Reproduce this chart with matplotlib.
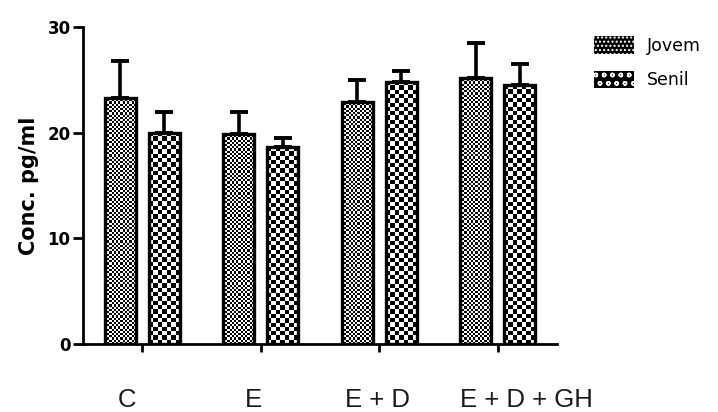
import numpy as np
import matplotlib
matplotlib.use("Agg")
import matplotlib.pyplot as plt
from matplotlib.patches import Patch

groups = ["C", "E", "E + D", "E + D + GH"]
series = ["Jovem", "Senil"]
jovem = [23.3, 19.9, 22.9, 25.2]
jovem_err = [3.5, 2.1, 2.1, 3.3]
senil = [20.0, 18.6, 24.8, 24.5]
senil_err = [2.0, 0.9, 1.0, 2.0]
yticks = [0, 10, 20, 30]

fig = plt.figure(figsize=(7.18, 4.12), dpi=100)
ax = fig.add_axes([0.1156, 0.165, 0.660, 0.7695])

x = np.arange(len(groups))
off = 0.186
w = 0.26


def checker(patch, cell_px, px_per_x, px_per_y):
    # fill a bar with a black/white checkerboard, clipped to the bar
    x0, wd, h = patch.get_x(), patch.get_width(), patch.get_height()
    nc = max(1, int(round(wd * px_per_x / cell_px)))
    nr = max(1, int(round(h * px_per_y / cell_px)))
    img = (np.add.outer(np.arange(nr), np.arange(nc)) % 2).astype(float)
    ax.imshow(img, extent=(x0, x0 + wd, 0, h), cmap="gray", interpolation="nearest",
              aspect="auto", clip_path=patch, zorder=2, vmin=0, vmax=1)


bars_j = ax.bar(x - off, jovem, w, facecolor="none", edgecolor="black", linewidth=2.4, zorder=3)
bars_s = ax.bar(x + off, senil, w, facecolor="none", edgecolor="black", linewidth=2.4, zorder=3)
ax.errorbar(x - off, jovem, yerr=[np.zeros(4), jovem_err], fmt="none", ecolor="black",
            elinewidth=2.6, capsize=6.5, capthick=2.8, zorder=1)
ax.errorbar(x + off, senil, yerr=[np.zeros(4), senil_err], fmt="none", ecolor="black",
            elinewidth=2.6, capsize=6.5, capthick=2.8, zorder=1)

pxx = 474 / 4.0
pxy = 317 / 30.0
for b in bars_j:
    checker(b, 2.2, pxx, pxy)
for b in bars_s:
    checker(b, 4.3, pxx, pxy)

ax.set_xlim(-0.5, 3.5)
ax.set_ylim(0, 30)
ax.spines["top"].set_visible(False)
ax.spines["right"].set_visible(False)
ax.spines["left"].set_linewidth(2)
ax.spines["bottom"].set_linewidth(2)
ax.set_yticks(yticks)
ax.set_yticklabels([str(v) for v in yticks], fontfamily="DejaVu Sans", fontweight="bold", fontsize=12)
ax.tick_params(axis="y", length=7, width=2, pad=2)
ax.set_xticks(x)
ax.set_xticklabels([])
ax.tick_params(axis="x", length=6, width=2, direction="out")
ax.set_ylabel("Conc. pg/ml", fontfamily="DejaVu Sans", fontweight="bold", fontsize=15, labelpad=6)

label_x = [-0.126, 0.935, 1.988, 3.243]
for lx, g in zip(label_x, groups):
    ax.text(lx, -0.175, g, transform=ax.get_xaxis_transform(), ha="center", va="center",
            family="Liberation Sans", fontsize=18.5, color="#1a1a1a")

handles = [Patch(facecolor="black", edgecolor="white", hatch="....", linewidth=0),
           Patch(facecolor="black", edgecolor="white", hatch="oo", linewidth=0)]
fig.legend(handles, series, loc="upper left", bbox_to_anchor=(0.806, 0.95), frameon=False,
           prop={"family": "DejaVu Sans", "size": 12.5}, handlelength=2.3, handleheight=1.2,
           labelspacing=0.9, handletextpad=0.7)

fig.savefig("out.png", dpi=100)
